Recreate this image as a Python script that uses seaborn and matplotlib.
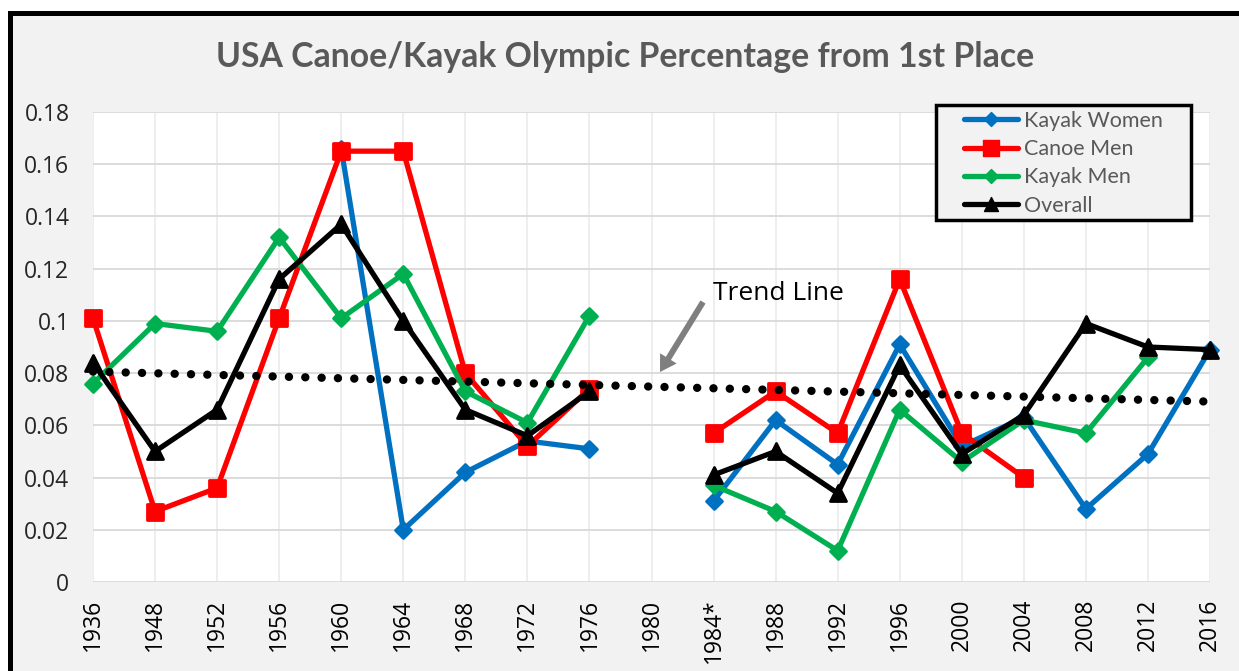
import numpy as np
import pandas as pd
import matplotlib
matplotlib.use('Agg')
import matplotlib.pyplot as plt
from matplotlib.lines import Line2D
from matplotlib.markers import MarkerStyle
from matplotlib.patches import Rectangle
import seaborn as sns

# values (1980 = no data)
years = ['1936', '1948', '1952', '1956', '1960', '1964', '1968', '1972', '1976', '1980',
         '1984*', '1988', '1992', '1996', '2000', '2004', '2008', '2012', '2016']
nan = np.nan
kayak_women = [nan, nan, nan, nan, 0.166, 0.020, 0.042, 0.054, 0.051, nan,
               0.031, 0.062, 0.045, 0.091, 0.052, 0.063, 0.028, 0.049, 0.089]
canoe_men = [0.101, 0.027, 0.036, 0.101, 0.165, 0.165, 0.080, 0.052, 0.074, nan,
             0.057, 0.073, 0.057, 0.116, 0.057, 0.040, nan, nan, nan]
kayak_men = [0.076, 0.099, 0.096, 0.132, 0.101, 0.118, 0.073, 0.061, 0.102, nan,
             0.037, 0.027, 0.012, 0.066, 0.046, 0.062, 0.057, 0.086, nan]
overall = [0.084, 0.050, 0.066, 0.116, 0.137, 0.100, 0.066, 0.056, 0.073, nan,
           0.041, 0.050, 0.034, 0.083, 0.049, 0.064, 0.099, 0.090, 0.089]

series = {'Kayak Women': kayak_women, 'Canoe Men': canoe_men,
          'Kayak Men': kayak_men, 'Overall': overall}
colors = {'Kayak Women': '#0070C0', 'Canoe Men': '#FF0000',
          'Kayak Men': '#00B050', 'Overall': '#000000'}
markers = {'Kayak Women': MarkerStyle('D', joinstyle='round'),
           'Canoe Men': MarkerStyle('s', joinstyle='round'),
           'Kayak Men': MarkerStyle('D', joinstyle='round'),
           'Overall': MarkerStyle('^', joinstyle='round')}
msizes = {'Kayak Women': 8, 'Canoe Men': 12, 'Kayak Men': 8, 'Overall': 11}

# long table, segment splits the line at the 1980 gap
rows = []
for name, vals in series.items():
    for i, v in enumerate(vals):
        rows.append({'series': name, 'pos': i, 'value': v, 'segment': 0 if i < 9 else 1})
df = pd.DataFrame(rows)

sns.set_style('white')
plt.rcParams['font.family'] = ['Open Sans', 'DejaVu Sans']

fig = plt.figure(figsize=(12.39, 6.71), dpi=100, facecolor='white')
bg = Rectangle((10 / 1239, -0.1), 1.2, 1.1 - 12.5 / 671, transform=fig.transFigure,
               facecolor='#F2F2F2', edgecolor='black', lw=3.6, zorder=-10)
fig.patches.append(bg)
ax = fig.add_axes([93 / 1239, 1 - 582 / 671, (1210 - 93) / 1239, (582 - 112) / 671])
ax.set_facecolor('white')

for name in series:
    sub = df[df['series'] == name].dropna()
    sns.lineplot(data=sub, x='pos', y='value', units='segment', estimator=None,
                 color=colors[name], marker=markers[name], markersize=msizes[name],
                 markeredgecolor=colors[name], markeredgewidth=2, lw=3.8, ax=ax,
                 zorder=3, clip_on=False)

# linear trend line of the overall series
ov = df[(df['series'] == 'Overall')].dropna()
k, b = np.polyfit(ov['pos'], ov['value'], 1)
tx = np.array([0, len(years) - 1])
ax.plot(tx, k * tx + b, color='black', lw=6, linestyle=(0, (0.01, 1.95)),
        dash_capstyle='round', zorder=5, clip_on=False)

ax.set_xlim(0, len(years) - 1)
ax.set_ylim(0, 0.18)
ax.set_xticks(range(len(years)))
ax.set_xticklabels(years, rotation=90, fontsize=16.5, color='#000000')
ax.set_yticks(np.arange(0, 0.181, 0.02))
ax.set_yticklabels(['0'] + ['%g' % t for t in np.arange(0.02, 0.181, 0.02)], fontsize=16.5)
ax.tick_params(axis='x', length=0, pad=12)
ax.tick_params(axis='y', length=0, pad=17)
ax.set_xlabel('')
ax.set_ylabel('')
ax.grid(axis='y', color='#D9D9D9', lw=1.3)
ax.grid(axis='x', color='#EDEDED', lw=1.3)
ax.set_axisbelow(True)
for s in ax.spines.values():
    s.set_visible(False)

fig.text(625 / 1239, 1 - 57 / 671, 'USA Canoe/Kayak Olympic Percentage from 1st Place',
         ha='center', va='center', fontsize=24.3, fontweight='bold', color='#595959',
         family=['Lato', 'DejaVu Sans'])

fig.text(713 / 1239, 1 - 300 / 671, 'Trend Line', ha='left', va='baseline',
         fontsize=19, color='black')
ax.annotate('', xy=(660, 671 - 372), xycoords='figure pixels',
            xytext=(703, 671 - 302), textcoords='figure pixels',
            arrowprops=dict(facecolor='#7F7F7F', edgecolor='none', width=4.3,
                            headwidth=14, headlength=11.5, shrink=0))

# legend box drawn separately so its padding matches
fig.patches.append(Rectangle((936 / 1239, 1 - 220 / 671), 255 / 1239, 115 / 671,
                             transform=fig.transFigure, facecolor='#F2F2F2',
                             edgecolor='black', lw=2.5, zorder=20))
handles = [Line2D([], [], color=colors[n], lw=3.8, marker=markers[n],
                  markersize=msizes[n] - 1, markeredgecolor=colors[n]) for n in series]
leg = fig.legend(handles, list(series.keys()), loc='upper left',
                 bbox_to_anchor=(964 / 1239, 1 - 111 / 671), borderaxespad=0,
                 handlelength=2.5, labelspacing=0.38, frameon=False,
                 borderpad=0, handletextpad=0.3,
                 prop={'family': ['Lato', 'DejaVu Sans'], 'size': 15.5})
for t in leg.get_texts():
    t.set_color('#595959')
leg.set_zorder(30)

fig.savefig('out.png', dpi=100, facecolor=fig.get_facecolor())
